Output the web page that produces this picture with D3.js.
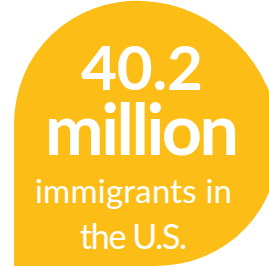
<!DOCTYPE html>
<html>
<head>
<meta charset="utf-8">
<script src="https://cdn.jsdelivr.net/npm/d3@7"></script>
<style>
  html, body { margin: 0; padding: 0; background: #fff; }
  svg { display: block; }
</style>
</head>
<body>
<svg width="269" height="267"></svg>
<script>
// headline figure and caption
const figureValue = ["40.2"];
const figureUnit = ["million"];
const captionLines = ["immigrants in", "the U.S."];

const svg = d3.select("svg");
const bubbleColor = "#FCBE16";

// teardrop bubble: rotated ellipse with a square bottom-left corner
const bubble = { left: 14, bottom: 266, a: 137, b: 128 };
const half = Math.sqrt((bubble.a * bubble.a + bubble.b * bubble.b) / 2);
const cx = bubble.left + half;
const cy = bubble.bottom - half;
const off = (bubble.a * bubble.a - bubble.b * bubble.b) / (2 * half);

svg.append("path")
  .attr("d", `M${bubble.left},${bubble.bottom}` +
    `L${bubble.left},${cy - off}` +
    `A${bubble.a},${bubble.b} 45 1 1 ${cx + off},${bubble.bottom}Z`)
  .attr("fill", bubbleColor);

// text lines
const lines = [
  { text: figureValue[0], size: 62, weight: 700, x: 142, y: 90, w: 122 },
  { text: figureUnit[0], size: 70, weight: 700, x: 142, y: 155, w: 194 },
  { text: captionLines[0], size: 33, weight: 400, x: 133.5, y: 203, w: 197 },
  { text: captionLines[1], size: 34, weight: 400, x: 133.5, y: 249, w: 107 }
];

svg.selectAll("text.line")
  .data(lines)
  .enter()
  .append("text")
  .attr("class", "line")
  .attr("x", d => d.x)
  .attr("y", d => d.y)
  .attr("text-anchor", "middle")
  .attr("font-family", "Lato, 'Open Sans', sans-serif")
  .attr("font-size", d => d.size)
  .attr("font-weight", d => d.weight)
  .attr("fill", "#fff")
  .attr("textLength", d => d.w)
  .attr("lengthAdjust", "spacing")
  .text(d => d.text);
</script>
</body>
</html>
